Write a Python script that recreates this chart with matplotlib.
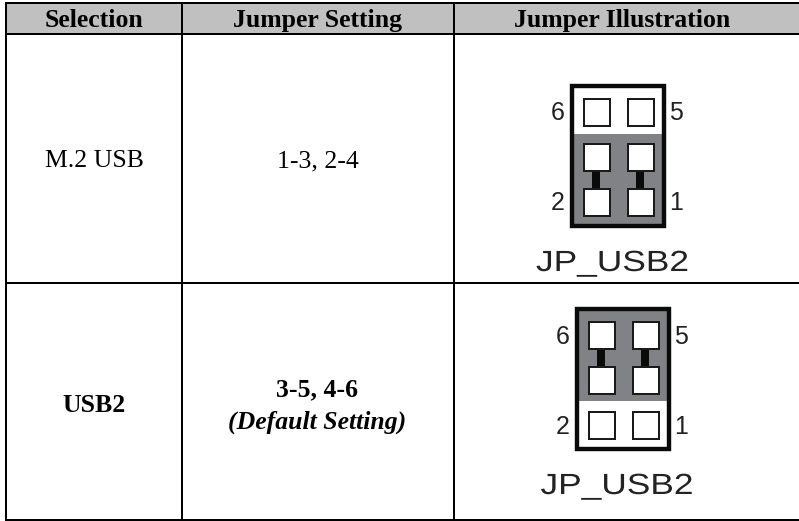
import matplotlib
matplotlib.use("Agg")
import matplotlib.pyplot as plt
from matplotlib.patches import Rectangle
from matplotlib.patheffects import AbstractPathEffect
from matplotlib.transforms import Affine2D

headers = ["Selection", "Jumper Setting", "Jumper Illustration"]
selections = ["M.2 USB", "USB2"]
settings = ["1-3, 2-4", "3-5, 4-6"]
notes = ["", "(Default Setting)"]
bold_rows = [False, True]
# which rows of the header are bridged, 0 = top, 1 = bottom
gray_rows = [1, 0]
pin_labels = ["6", "5", "2", "1"]
jumper_name = "JP_USB2"

# layout in pixels
col_edges = [6, 182, 453.5]
row_edges = [2.5, 34, 283, 520]
box_left = [570, 575]
box_top = [84, 307]
name_left = [536, 540.5]
PX = 72 / 100  # line widths are in points


class StretchX(AbstractPathEffect):
    # the label in the picture is wider than the font
    def __init__(self, sx):
        super().__init__()
        self.sx = sx

    def draw_path(self, renderer, gc, tpath, affine, rgbFace=None):
        renderer.draw_path(gc, tpath, Affine2D().scale(self.sx, 1) + affine, rgbFace)


def draw_jumper(ax, left, top, gray_row, name_x):
    w, h = 96, 144
    split = top + (50 if gray_row == 1 else 94)
    # gray half under the bridged pins
    if gray_row == 1:
        ax.add_patch(Rectangle((left, split), w, top + h - split, fc="#808285", ec="none"))
    else:
        ax.add_patch(Rectangle((left, top), w, split - top, fc="#808285", ec="none"))
    ax.add_patch(Rectangle((left + 2.2, top + 2.2), w - 4.4, h - 4.4, fc="none", ec="#0a0a0a", lw=4.4 * PX))

    pin_x = [left + 13, left + 57]
    pin_y = [top + 14, top + 59, top + 104]
    bridged = [1, 2] if gray_row == 1 else [0, 1]
    for px in pin_x:
        ax.add_patch(Rectangle((px + 9, pin_y[bridged[0]] + 27), 8, 18, fc="#0a0a0a", ec="none", zorder=2))
        for py in pin_y:
            ax.add_patch(Rectangle((px + 0.5, py + 0.5), 26.5, 27, fc="white", ec="#1a1a1a", lw=2 * PX, zorder=3))

    ys = [pin_y[0] + 15.5, pin_y[2] + 15.5]
    xs = [left - 12, left + w + 10]
    for i, lab in enumerate(pin_labels):
        ax.text(xs[i % 2], ys[i // 2], lab, family="Liberation Sans", fontsize=18, color="#222222",
                ha="center", va="center")
    t = ax.text(name_x, top + 187, jumper_name, family="Liberation Sans", fontsize=21, color="#222222",
                ha="left", va="baseline")
    t.set_path_effects([StretchX(1.21)])


fig = plt.figure(figsize=(7.99, 5.21), dpi=100)
ax = fig.add_axes([0, 0, 1, 1])
ax.set_xlim(0, 799)
ax.set_ylim(521, 0)
ax.axis("off")

ax.add_patch(Rectangle((col_edges[0], row_edges[0]), 799 - col_edges[0], row_edges[1] - row_edges[0],
                       fc="#c0c0c0", ec="none", zorder=0))
for x in col_edges:
    ax.plot([x, x], [row_edges[0], row_edges[-1]], color="black", lw=2 * PX, solid_capstyle="butt")
for y in row_edges:
    ax.plot([col_edges[0] - 1, 799], [y, y], color="black", lw=2 * PX, solid_capstyle="butt")

col_mid = [94, 317.5, 622.5]
serif = "Liberation Serif"
for x, h in zip(col_mid, headers):
    ax.text(x, 20.5, h, family=serif, fontweight="bold", fontsize=18.5, ha="center", va="center", color="black")

row_y = [161, 405]
for i in range(2):
    weight = "bold" if bold_rows[i] else "normal"
    ax.text(col_mid[0], row_y[i], selections[i], family=serif, fontsize=18.5, fontweight=weight,
            ha="center", va="center", color="black")
    if notes[i]:
        ax.text(col_mid[1], 390, settings[i], family=serif, fontsize=18.5, fontweight=weight,
                ha="center", va="center", color="black")
        ax.text(col_mid[1], 422, notes[i], family=serif, fontsize=18.5, fontweight=weight, style="italic",
                ha="center", va="center", color="black")
    else:
        ax.text(col_mid[1], row_y[i], settings[i], family=serif, fontsize=18.5, fontweight=weight,
                ha="center", va="center", color="black")
    draw_jumper(ax, box_left[i], box_top[i], gray_rows[i], name_left[i])

fig.savefig("out.png", dpi=100)
